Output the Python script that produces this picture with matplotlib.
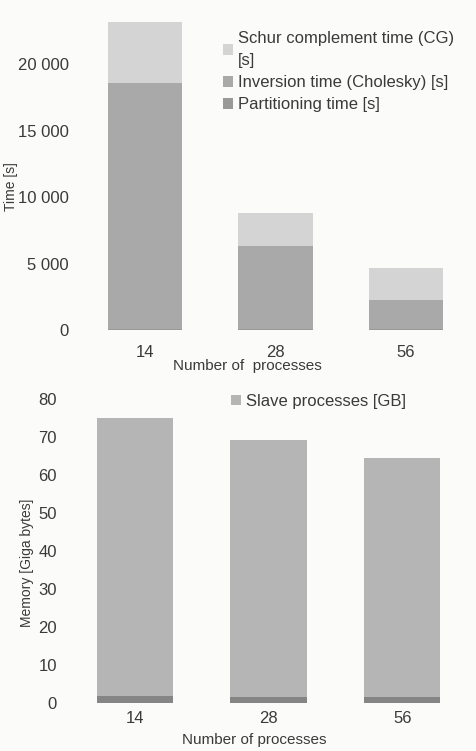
import matplotlib
matplotlib.use("Agg")
import matplotlib.pyplot as plt
from matplotlib.ticker import FuncFormatter
import numpy as np

processes = ["14", "28", "56"]
partitioning_time = [60, 50, 40]
inversion_time = [18500, 6250, 2210]
schur_time = [4600, 2500, 2410]

slave_memory = [73.0, 67.6, 62.8]
master_memory = [1.8, 1.6, 1.6]

plt.rcParams['font.family'] = ['Liberation Sans', 'DejaVu Sans']
TXT = '#3a3a3a'
BG = '#fbfbfa'

fig = plt.figure(figsize=(4.76, 7.51), dpi=100, facecolor=BG)

# ---- top chart ----
ax1 = fig.add_axes([80/476, 1-330/751, 391/476, 319/751], facecolor=BG)
x = np.arange(len(processes))
w = 0.57
c_part, c_inv, c_schur = '#999999', '#a9a9a9', '#d4d4d4'
b1 = ax1.bar(x, partitioning_time, w, color=c_part, label='Partitioning time [s]')
b2 = ax1.bar(x, inversion_time, w, bottom=partitioning_time, color=c_inv,
             label='Inversion time (Cholesky) [s]')
bot2 = np.array(partitioning_time) + np.array(inversion_time)
b3 = ax1.bar(x, schur_time, w, bottom=bot2, color=c_schur,
             label='Schur complement time (CG)\n[s]')
ax1.set_xlim(-0.5, 2.5)
ax1.set_ylim(0, 24000)
ax1.set_yticks([0, 5000, 10000, 15000, 20000])
ax1.yaxis.set_major_formatter(FuncFormatter(lambda v, p: f"{int(v):,}".replace(",", " ")))
ax1.set_xticks(x)
ax1.set_xticklabels(processes)
ax1.tick_params(length=0, labelsize=12, colors=TXT)
ax1.tick_params(axis='y', pad=8)
ax1.tick_params(axis='x', pad=11)
for s in ax1.spines.values():
    s.set_visible(False)
ax1.set_ylabel('Time [s]', fontsize=10, color=TXT)
ax1.yaxis.set_label_coords(-62/391, 0.45)
ax1.set_xlabel('Number of  processes', fontsize=11, color=TXT)
ax1.xaxis.set_label_coords(167/391, -29/319)
leg1 = ax1.legend(handles=[b3, b2, b1], loc='upper left', bbox_to_anchor=(136/391, 1-13/319),
                  frameon=False, fontsize=12, handlelength=0.6, handleheight=0.6,
                  handletextpad=0.3, labelspacing=0.42, borderaxespad=0)
for t in leg1.get_texts():
    t.set_color(TXT)
    t.set_linespacing(1.65)

# ---- bottom chart ----
ax2 = fig.add_axes([68/476, 1-703/751, 401/476, 312/751], facecolor=BG)
c_slave, c_master = '#b5b5b5', '#858585'
m1 = ax2.bar(x, master_memory, 0.57, color=c_master)
m2 = ax2.bar(x, slave_memory, 0.57, bottom=master_memory, color=c_slave,
             label='Slave processes [GB]')
ax2.set_xlim(-0.5, 2.5)
ax2.set_ylim(0, 82)
ax2.set_yticks(range(0, 81, 10))
ax2.set_xticks(x)
ax2.set_xticklabels(processes)
ax2.tick_params(length=0, labelsize=12, colors=TXT)
ax2.tick_params(axis='y', pad=8)
ax2.tick_params(axis='x', pad=6)
for s in ax2.spines.values():
    s.set_visible(False)
ax2.set_ylabel('Memory [Giga bytes]', fontsize=10, color=TXT)
ax2.yaxis.set_label_coords(-34/401, 0.45)
ax2.set_xlabel('Number of processes', fontsize=11, color=TXT)
ax2.xaxis.set_label_coords(186/401, -30/312)
leg2 = ax2.legend(handles=[m2], loc='upper left', bbox_to_anchor=(156/401, 1+4/312),
                  frameon=False, fontsize=12, handlelength=0.6, handleheight=0.6,
                  handletextpad=0.3, borderaxespad=0)
for t in leg2.get_texts():
    t.set_color(TXT)

fig.savefig('out.png', dpi=100, facecolor=BG)
